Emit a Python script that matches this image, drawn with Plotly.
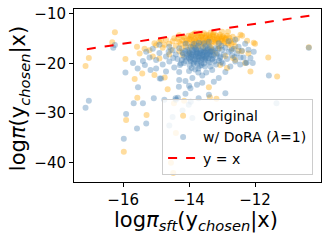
import plotly.graph_objects as go

# Original (orange) points: log pi_sft(y_chosen|x), log pi(y_chosen|x)
orig_x = [-16.25, -16.33, -17.04, -17.14, -15.93, -15.65, -15.57, -15.91, -15.98, -15.29,
          -15.42, -15.05, -14.74, -14.48, -14.46, -13.40, -13.37, -13.17, -12.85, -11.60,
          -11.33, -12.14, -10.37, -12.82, -12.44, -12.24, -12.04, -15.58, -14.15, -13.06,
          -12.39, -12.00, -12.30, -12.67, -14.40, -14.55,
          -15.00, -14.90, -14.80, -14.70, -14.60, -14.55, -14.50, -14.40, -14.35, -14.30,
          -14.25, -14.20, -14.15, -14.10, -14.05, -14.00, -13.95, -13.90, -13.85, -13.80,
          -13.75, -13.70, -13.65, -13.60, -13.55, -13.50, -13.45, -13.40, -13.35, -13.30,
          -13.25, -13.20, -13.15, -13.10, -13.05, -13.00, -12.95, -12.90, -12.85, -12.80,
          -12.75, -12.70, -12.65, -12.60, -12.55, -12.50, -13.90, -13.80, -13.60, -13.50,
          -13.40, -13.30, -13.70, -14.00, -14.20, -13.20, -15.20, -15.35, -15.50, -15.10,
          -14.60, -14.90, -12.90, -12.60, -12.40, -12.20, -13.00, -14.65,
          -14.45, -14.30, -14.12, -14.02, -13.92, -13.87, -13.78, -13.72, -13.66, -13.58,
          -13.52, -13.47, -13.42, -13.36, -13.31, -13.27, -13.22, -13.17, -13.12, -13.07,
          -13.02, -12.97, -12.92, -12.87, -12.83, -12.78, -12.72, -13.97, -13.62, -13.33,
          -13.08, -14.22, -14.75, -14.85, -15.05, -13.55, -13.25, -14.30, -13.88, -12.68,
          -14.18, -14.08, -13.98, -13.93, -13.83, -13.76, -13.68, -13.63, -13.57, -13.49,
          -13.44, -13.38, -13.29, -13.23, -13.14, -13.09, -13.00, -12.93, -13.82, -13.35]
orig_y = [-13.7, -15.7, -18.9, -20.5, -19.1, -23.1, -26.9, -31.4, -37.8, -30.4,
          -22.0, -22.3, -22.8, -42.1, -28.0, -24.8, -26.8, -27.1, -20.9, -18.8,
          -22.6, -21.6, -16.7, -13.6, -14.2, -15.4, -15.8, -16.6, -27.5, -20.3,
          -14.4, -16.0, -19.9, -18.9, -34.0, -40.0,
          -16.3, -15.6, -16.8, -15.2, -16.0, -17.2, -15.5, -16.4, -15.0, -17.5,
          -16.0, -15.3, -14.8, -16.6, -15.8, -15.1, -14.6, -16.2, -15.4, -14.9,
          -16.8, -15.7, -14.5, -15.2, -16.1, -14.8, -15.5, -14.3, -16.3, -15.0,
          -14.6, -15.8, -14.9, -16.5, -15.3, -14.7, -15.9, -15.1, -14.4, -16.2,
          -15.4, -17.0, -15.7, -16.5, -15.0, -17.4, -15.9, -16.3, -14.2, -17.0,
          -15.9, -17.3, -13.9, -17.9, -18.3, -18.0, -17.3, -17.0, -18.0, -18.6,
          -18.2, -19.0, -18.5, -19.3, -17.5, -18.0, -13.6, -25.2,
          -14.9, -15.6, -15.9, -14.4, -15.2, -14.1, -15.6, -14.7, -16.0, -14.8,
          -15.8, -14.2, -15.1, -14.7, -15.6, -14.1, -15.2, -14.4, -15.5, -14.2,
          -15.0, -14.5, -15.6, -14.9, -15.9, -14.8, -15.9, -16.8, -16.6, -16.9,
          -16.9, -16.9, -16.2, -15.3, -15.9, -13.9, -13.7, -14.3, -16.5, -14.6,
          -14.6, -15.4, -15.0, -14.3, -15.1, -14.4, -15.3, -14.6, -15.5, -14.5,
          -15.3, -14.9, -14.4, -15.6, -15.1, -14.6, -15.4, -14.8, -13.9, -13.8]

# w/ DoRA (blue) points
dora_x = [-16.30, -16.25, -17.04, -17.14, -15.93, -15.56, -15.55, -15.34, -15.17, -15.07,
          -15.68, -15.40, -15.91, -15.30, -15.58, -15.98, -14.41, -12.90, -11.58, -11.35,
          -10.37, -14.34, -14.11, -14.01, -13.71, -13.76, -13.96, -14.31, -14.89, -14.11,
          -13.72, -13.60, -14.28, -13.40, -13.25, -13.10, -13.95, -14.40, -14.75, -12.44,
          -12.28, -12.04, -12.14, -12.07, -14.50, -14.20, -13.90, -14.60,
          -15.20, -15.00, -14.90, -14.80, -14.70, -14.60, -14.50, -14.45, -14.40, -14.35,
          -14.30, -14.25, -14.20, -14.15, -14.10, -14.05, -14.00, -13.98, -13.95, -13.90,
          -13.88, -13.85, -13.82, -13.80, -13.78, -13.75, -13.72, -13.70, -13.68, -13.65,
          -13.62, -13.60, -13.58, -13.55, -13.52, -13.50, -13.48, -13.45, -13.42, -13.40,
          -13.38, -13.35, -13.30, -13.28, -13.25, -13.20, -13.18, -13.15, -13.10, -13.05,
          -13.00, -12.98, -12.95, -12.90, -12.85, -12.80, -12.75, -12.70, -12.65, -12.60,
          -12.55, -12.50, -12.45, -12.40, -12.35, -12.30, -12.25, -12.20, -14.60, -14.90,
          -15.10, -14.00, -13.60, -13.90, -14.30, -13.30, -12.90, -13.70, -13.40, -13.10,
          -12.80, -12.60, -14.10, -15.40, -15.70, -15.00, -14.70, -15.30, -14.85, -14.30,
          -14.00,
          -14.18, -14.08, -14.02, -13.96, -13.93, -13.86, -13.84, -13.80, -13.76, -13.74,
          -13.69, -13.66, -13.63, -13.59, -13.56, -13.53, -13.49, -13.46, -13.43, -13.39,
          -13.36, -13.33, -13.27, -13.23, -13.17, -13.12, -13.07, -13.02, -14.12, -14.22,
          -14.48, -14.62, -13.92, -13.72, -13.52, -13.02, -12.72, -12.62, -13.85, -13.55,
          -14.05, -13.98, -13.94, -13.89, -13.83, -13.79, -13.77, -13.73, -13.70, -13.67,
          -13.64, -13.61, -13.57, -13.54, -13.51, -13.47, -13.44, -13.41, -13.37, -13.34,
          -13.90, -13.86, -13.62, -14.00, -13.75, -13.50, -13.80, -14.15, -13.30, -13.95]
dora_y = [-16.8, -16.25, -27.5, -28.9, -21.8, -21.0, -24.8, -20.3, -21.3, -27.0,
          -28.0, -28.0, -30.2, -32.1, -33.1, -35.2, -27.0, -26.0, -22.4, -28.0,
          -16.8, -26.9, -26.1, -28.3, -27.0, -24.3, -25.0, -24.7, -23.0, -23.5,
          -21.8, -23.9, -20.3, -26.3, -23.7, -22.9, -27.7, -27.3, -27.3, -18.8,
          -19.9, -17.6, -18.9, -19.9, -30.8, -29.5, -31.0, -32.5,
          -18.8, -19.3, -17.9, -20.2, -18.6, -19.6, -17.3, -20.8, -18.2, -19.1,
          -16.9, -20.0, -17.8, -18.7, -19.5, -17.2, -18.2, -20.4, -16.6, -19.0,
          -17.7, -18.5, -21.2, -17.1, -19.6, -18.0, -16.4, -18.8, -20.5, -17.5,
          -19.2, -18.3, -16.9, -20.0, -17.8, -18.9, -21.8, -17.2, -19.5, -18.1,
          -16.6, -20.6, -17.6, -19.0, -18.4, -16.9, -20.2, -17.9, -19.4, -18.6,
          -17.2, -20.0, -18.2, -16.8, -19.1, -17.6, -20.6, -18.4, -17.0, -19.6,
          -18.0, -16.6, -20.2, -17.4, -18.8, -16.0, -19.8, -17.2, -16.6, -16.2,
          -17.0, -21.5, -22.4, -22.9, -21.7, -21.3, -21.7, -15.8, -15.6, -15.9,
          -15.5, -15.2, -16.0, -19.5, -19.9, -21.0, -21.6, -17.6, -23.0, -23.3,
          -24.5,
          -18.0, -18.8, -17.6, -19.3, -18.1, -19.8, -17.3, -18.6, -17.8, -19.1,
          -17.9, -18.6, -19.9, -17.7, -18.7, -19.3, -17.5, -18.3, -16.9, -19.8,
          -17.6, -18.5, -17.3, -19.6, -18.2, -17.0, -18.9, -19.7, -17.4, -19.3,
          -18.9, -17.6, -20.9, -21.0, -20.6, -16.4, -17.3, -18.7, -16.0, -15.9,
          -18.4, -17.9, -18.7, -18.3, -19.2, -18.1, -17.4, -18.5, -19.4, -18.0,
          -17.3, -18.9, -18.2, -17.6, -19.0, -18.6, -17.8, -18.9, -18.3, -17.5,
          -17.2, -20.1, -20.3, -19.0, -20.0, -16.5, -16.8, -19.9, -19.2, -19.6]

# y = x reference line end points
line_x = [-17.1, -10.35]
line_y = [-17.1, -10.35]

X_TITLE = "log<i>π</i><sub><i>sft</i></sub>(y<sub><i>chosen</i></sub>|x)"
Y_TITLE = "log<i>π</i>(y<sub><i>chosen</i></sub>|x)"

FONT = "DejaVu Sans"

fig = go.Figure()
fig.add_trace(go.Scatter(
    x=orig_x, y=orig_y, mode="markers", name="Original",
    marker=dict(color="rgba(255,165,0,0.38)", size=6, line=dict(width=0)),
))
fig.add_trace(go.Scatter(
    x=dora_x, y=dora_y, mode="markers", name="w/ DoRA (<i>λ</i>=1)",
    marker=dict(color="rgba(70,130,180,0.38)", size=6, line=dict(width=0)),
))
fig.add_trace(go.Scatter(
    x=line_x, y=line_y, mode="lines", name="y = x",
    line=dict(color="red", width=2, dash="dash"),
))

axis_common = dict(
    showgrid=False, zeroline=False, showline=True, linecolor="black", linewidth=1,
    mirror=True, ticks="outside", ticklen=4, tickcolor="black",
    tickfont=dict(family=FONT, size=15, color="black"),
    automargin=False,
)

fig.update_layout(
    width=329, height=241,
    margin=dict(l=74, r=8, t=9, b=59),
    paper_bgcolor="white", plot_bgcolor="white",
    font=dict(family=FONT, color="black"),
    showlegend=True,
    legend=dict(
        x=0.968, y=0.04, xanchor="right", yanchor="bottom",
        bgcolor="rgba(255,255,255,0.8)", bordercolor="#cccccc", borderwidth=1,
        font=dict(family=FONT, size=14, color="black"),
        tracegroupgap=0, itemwidth=30,
    ),
    xaxis=dict(range=[-17.49, -10.0], tickvals=[-16, -14, -12], **axis_common),
    yaxis=dict(range=[-43.9, -9.0], tickvals=[-10, -20, -30, -40], **axis_common),
    annotations=[
        dict(text=X_TITLE, xref="paper", yref="paper", x=0.494, y=-0.225,
             xanchor="center", yanchor="middle", showarrow=False,
             font=dict(family=FONT, size=21, color="black")),
        dict(text=Y_TITLE, xref="paper", yref="paper", x=-0.222, y=0.48,
             xanchor="center", yanchor="middle", showarrow=False, textangle=-90,
             font=dict(family=FONT, size=21, color="black")),
    ],
)

fig.write_html(
    "out.html",
    config={"displayModeBar": False},
    post_script="document.body.style.margin='0px';document.body.style.overflow='hidden';",
)
